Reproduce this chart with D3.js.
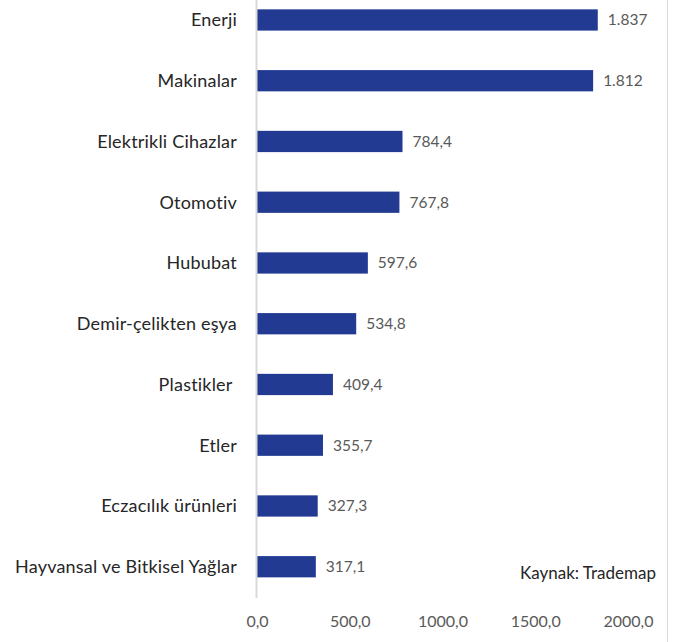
<!DOCTYPE html>
<html><head><meta charset="utf-8">
<script src="https://cdn.jsdelivr.net/npm/d3@7"></script>
<style>body{margin:0;background:#fff}svg{display:block}text{font-family:Lato,"Noto Sans",sans-serif}</style>
</head><body>
<svg id="c" width="684" height="642"></svg>
<script>
const categories = ["Enerji","Makinalar","Elektrikli Cihazlar","Otomotiv","Hububat","Demir-çelikten eşya","Plastikler ","Etler","Eczacılık ürünleri","Hayvansal ve Bitkisel Yağlar"];
const values = [1837,1812,784.4,767.8,597.6,534.8,409.4,355.7,327.3,317.1];
const valueLabels = ["1.837","1.812","784,4","767,8","597,6","534,8","409,4","355,7","327,3","317,1"];
const ticks = [0,500,1000,1500,2000];
const source = "Kaynak: Trademap";

const svg = d3.select("#c");
const x = d3.scaleLinear().domain([0,2000]).range([257,628]);
const y = d3.scaleBand().domain(categories).range([-10.4,597.1]).paddingInner(0.65).paddingOuter(0.325);

// right border
svg.append("line").attr("x1",667.5).attr("x2",667.5).attr("y1",0).attr("y2",642).attr("stroke","#d9d9d9").attr("stroke-width",1);

// bars
svg.selectAll("rect.bar").data(values).join("rect").attr("class","bar")
  .attr("x",x(0)).attr("y",(d,i)=>y(categories[i]))
  .attr("width",d=>x(d)-x(0)).attr("height",y.bandwidth())
  .attr("fill","#223a92");

// vertical axis line
svg.append("line").attr("x1",x(0)-0.5).attr("x2",x(0)-0.5).attr("y1",0).attr("y2",598).attr("stroke","#d9d9d9").attr("stroke-width",2);

// category labels
svg.selectAll("text.cat").data(categories).join("text").attr("class","cat")
  .attr("x",237).attr("y",d=>y(d)+y.bandwidth()/2).attr("dy","0.35em")
  .attr("text-anchor","end").attr("font-size",18).attr("letter-spacing",0.2).attr("fill","#262626")
  .style("white-space","pre").text(d=>d);

// value labels
svg.selectAll("text.val").data(values).join("text").attr("class","val")
  .attr("x",d=>x(d)+10).attr("y",(d,i)=>y(categories[i])+y.bandwidth()/2).attr("dy","0.35em")
  .attr("font-size",15.5).attr("fill","#595959").text((d,i)=>valueLabels[i]);

// x axis
const ax = svg.append("g").attr("transform","translate(0,598)")
  .call(d3.axisBottom(x).tickValues(ticks).tickSize(0).tickPadding(18).tickFormat(d=>d3.format(".1f")(d).replace(".",",")));
ax.select(".domain").remove();
ax.selectAll("text").attr("font-size",16).attr("fill","#595959").style("font-family","Lato,'Noto Sans',sans-serif");

// source
svg.append("text").attr("x",656).attr("y",573).attr("dy","0.35em").attr("text-anchor","end")
  .attr("font-size",17).attr("fill","#262626").text(source);
</script>
</body></html>
